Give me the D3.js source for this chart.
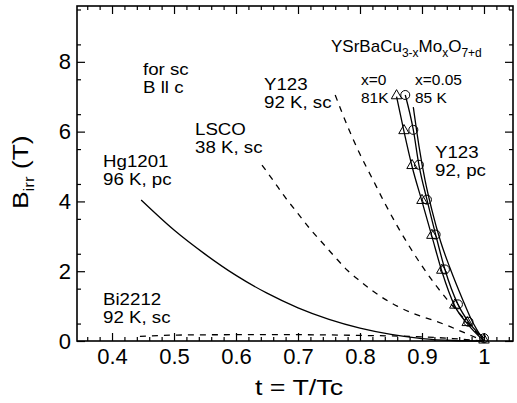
<!DOCTYPE html>
<html>
<head>
<meta charset="utf-8">
<script src="https://cdn.jsdelivr.net/npm/d3@7"></script>
<style>
  body { margin: 0; background: #fff; }
  svg text { font-family: "Liberation Sans", Arial, sans-serif; fill: #000; }
</style>
</head>
<body>
<svg id="chart" width="517" height="403"></svg>
<script>
// valeurs (t = T/Tc, Birr en T)
var hgT = [0.447, 0.5, 0.55, 0.6, 0.65, 0.7, 0.75, 0.8, 0.85, 0.9, 0.95, 1.0];
var hgB = [4.04, 3.18, 2.49, 1.88, 1.37, 0.95, 0.62, 0.37, 0.19, 0.07, 0.015, 0];

var biT = [0.445, 0.5, 0.6, 0.7, 0.8, 0.9, 0.95, 1.0];
var biB = [0.13, 0.17, 0.18, 0.18, 0.16, 0.12, 0.07, 0];

var lscoT = [0.642, 0.66, 0.68, 0.7, 0.72, 0.74, 0.76, 0.78, 0.8, 0.82, 0.84, 0.86, 0.88, 0.9, 0.92, 0.94, 0.96, 0.98, 1.0];
var lscoB = [5.04, 4.6, 4.1, 3.65, 3.2, 2.8, 2.4, 2.02, 1.72, 1.44, 1.2, 1.0, 0.83, 0.7, 0.58, 0.45, 0.3, 0.15, 0];

var y123scT = [0.76, 0.78, 0.8, 0.82, 0.84, 0.86, 0.88, 0.9, 0.92, 0.94, 0.96, 0.98, 1.0];
var y123scB = [7.05, 6.15, 5.35, 4.65, 3.95, 3.3, 2.7, 2.15, 1.65, 1.2, 0.8, 0.4, 0];

var y123pcT = [0.886, 0.895, 0.905, 0.916, 0.93, 0.945, 0.966, 0.98, 1.0];
var y123pcB = [6.7, 5.6, 4.6, 3.75, 2.85, 2.1, 1.17, 0.6, 0];

// YSrBaCu3-xMoxO7+d : x=0 (triangles), x=0.05 (cercles)
var x0T = [0.859, 0.871, 0.884, 0.9, 0.916, 0.932, 0.953, 0.973, 1.0];
var x0B = [7.0, 6.0, 5.0, 4.0, 3.0, 2.0, 1.0, 0.5, 0];
var x05T = [0.873, 0.886, 0.895, 0.908, 0.922, 0.937, 0.958, 0.975, 1.0];
var x05B = [7.05, 6.05, 5.05, 4.05, 3.05, 2.05, 1.05, 0.55, 0.08];

var xTicks = [0.4, 0.5, 0.6, 0.7, 0.8, 0.9, 1];
var yTicks = [0, 2, 4, 6, 8];

var margin = {top: 6, right: 4, bottom: 62, left: 77},
  width = 517 - margin.left - margin.right,
  height = 403 - margin.top - margin.bottom;

var svg = d3.select("#chart");
var g = svg.append("g").attr("transform", "translate(" + margin.left + "," + margin.top + ")");

var x = d3.scaleLinear().domain([0.3435, 1.0468]).range([0, width]);
var y = d3.scaleLinear().domain([0, 9.6]).range([height, 0]);

var minorX = d3.range(0.36, 1.041, 0.02).filter(v => Math.abs(v * 10 - Math.round(v * 10)) > 0.01);
var minorY = d3.range(0.5, 9.6, 1);

// cadre + graduations vers l'intérieur
function axes() {
  var bot = g.append("g").attr("transform", "translate(0," + height + ")")
    .call(d3.axisBottom(x).tickValues(xTicks).tickSize(-8).tickPadding(7).tickFormat(d => d == 1 ? "1" : d3.format(".1f")(d)));
  bot.append("g").call(d3.axisBottom(x).tickValues(minorX).tickSize(-4).tickFormat(""));
  var top = g.append("g")
    .call(d3.axisTop(x).tickValues(xTicks).tickSize(-8).tickFormat(""));
  top.append("g").call(d3.axisTop(x).tickValues(minorX).tickSize(-4).tickFormat(""));
  var left = g.append("g")
    .call(d3.axisLeft(y).tickValues(yTicks).tickSize(-8).tickPadding(6));
  left.append("g").call(d3.axisLeft(y).tickValues(minorY).tickSize(-4).tickFormat(""));
  var right = g.append("g").attr("transform", "translate(" + width + ",0)")
    .call(d3.axisRight(y).tickValues(yTicks).tickSize(-8).tickFormat(""));
  right.append("g").call(d3.axisRight(y).tickValues(minorY).tickSize(-4).tickFormat(""));

  g.selectAll(".domain").remove();
  g.selectAll(".tick line").attr("stroke", "#000").attr("stroke-width", 1.2);
  g.selectAll(".tick text").style("font-size", "22px").attr("fill", "#000");
  g.append("rect").attr("width", width).attr("height", height)
    .attr("fill", "none").attr("stroke", "#000").attr("stroke-width", 1.6);
}
axes();

var line = d3.line().x(d => x(d[0])).y(d => y(d[1])).curve(d3.curveMonotoneX);
function serie(ts, bs) { return ts.map((t, i) => [t, bs[i]]); }

var courbes = [
  {data: serie(hgT, hgB), dash: null},
  {data: serie(biT, biB), dash: "6,6"},
  {data: serie(lscoT, lscoB), dash: "6,6"},
  {data: serie(y123scT, y123scB), dash: "6,6"},
  {data: serie(y123pcT, y123pcB), dash: null},
  {data: serie(x0T, x0B), dash: null},
  {data: serie(x05T, x05B), dash: null}
];

g.selectAll("path.courbe").data(courbes).enter().append("path")
  .attr("class", "courbe")
  .attr("d", d => line(d.data))
  .attr("fill", "none")
  .attr("stroke", "#000")
  .attr("stroke-width", 1.3)
  .attr("stroke-dasharray", d => d.dash);

// marqueurs
g.selectAll("path.tri").data(serie(x0T, x0B)).enter().append("path")
  .attr("class", "tri")
  .attr("d", d3.symbol().type(d3.symbolTriangle).size(48))
  .attr("transform", d => "translate(" + x(d[0]) + "," + (y(d[1]) - 1) + ")")
  .attr("fill", "none").attr("stroke", "#000").attr("stroke-width", 1);

g.selectAll("circle.rond").data(serie(x05T, x05B)).enter().append("circle")
  .attr("class", "rond")
  .attr("cx", d => x(d[0])).attr("cy", d => y(d[1]))
  .attr("r", 4.5)
  .attr("fill", "none").attr("stroke", "#000").attr("stroke-width", 1);

// textes
function label(x0, y0, lignes, size, sx) {
  lignes.forEach((l, i) => {
    svg.append("text")
      .attr("transform", "translate(" + x0 + "," + (y0 + i * 18) + ") scale(" + sx + ",1)")
      .style("font-size", size + "px").text(l);
  });
}
label(143, 75, ["for sc", "B ll c"], 17, 1.1);
label(264, 90, ["Y123", "92 K, sc"], 17, 1.1);
label(195, 135, ["LSCO", "38 K, sc"], 17, 1.1);
label(103, 167, ["Hg1201", "96 K, pc"], 17, 1.1);
label(103, 305, ["Bi2212", "92 K, sc"], 17, 1.1);
label(435, 158, ["Y123", "92, pc"], 17, 1.1);
label(361, 85, ["x=0", "81K"], 15.5, 1);
label(415, 85, ["x=0.05", "85 K"], 15.5, 1);

var formule = svg.append("text").attr("x", 331).attr("y", 52).style("font-size", "17px");
[["YSrBaCu", 0], ["3-x", 1], ["Mo", 0], ["x", 1], ["O", 0], ["7+d", 1]].forEach(p => {
  formule.append("tspan").text(p[0])
    .style("font-size", p[1] ? "12px" : "17px")
    .attr("dy", p[1] ? 5 : -5);
});
formule.select("tspan").attr("dy", 0);

// titres des axes
svg.append("text").attr("transform", "translate(299,395) scale(1.22,1)").attr("text-anchor", "middle")
  .style("font-size", "22px").text("t = T/Tc");

var ylab = svg.append("text").attr("transform", "translate(28,209) rotate(-90) scale(1.2,1)")
  .style("font-size", "22px");
ylab.append("tspan").text("B");
ylab.append("tspan").text("irr").style("font-size", "14px").attr("dy", 6);
ylab.append("tspan").text(" (T)").attr("dy", -6);
</script>
</body>
</html>
